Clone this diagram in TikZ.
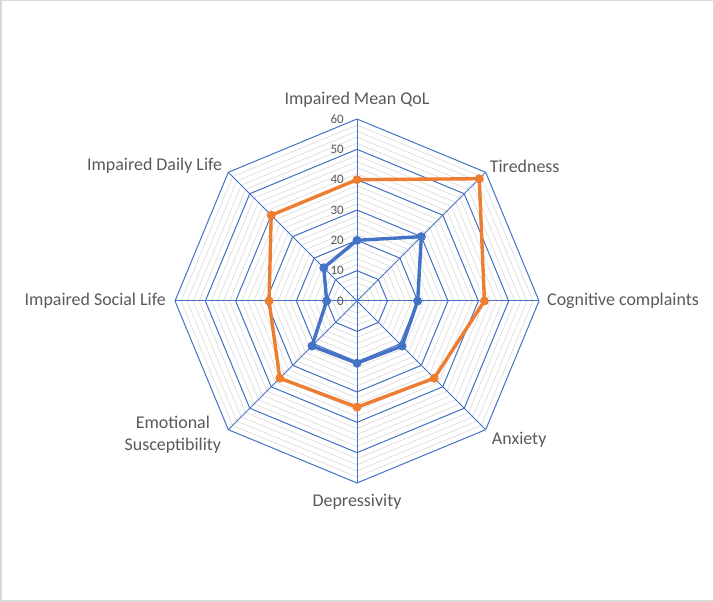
\documentclass[tikz,border=0pt]{standalone}
\usepackage{fontspec}
\setmainfont{Carlito}
\usetikzlibrary{positioning}
\definecolor{gridblue}{HTML}{4472C4}
\definecolor{minorgray}{HTML}{D9D9D9}
\definecolor{serblue}{HTML}{4472C4}
\definecolor{serorange}{HTML}{ED7D31}
\definecolor{labelgray}{HTML}{595959}

\begin{document}
\begin{tikzpicture}[x=1bp,y=1bp,
	axislabel/.style={text=labelgray,font=\fontsize{18}{22}\selectfont,inner sep=0pt},
	ticklabel/.style={text=labelgray,font=\fontsize{13}{15}\selectfont,inner sep=0pt,anchor=east},
	minorring/.style={draw=minorgray,line width=0.6bp},
	majorring/.style={draw=gridblue,line width=1bp},
	series/.style={line width=3.4bp,line join=round},
	dot/.style={circle,inner sep=0pt,minimum size=9bp}]

	\draw[minorgray,line width=1.5bp] (0.75,0.75) rectangle (713.25,601.25);
	\useasboundingbox (0,0) rectangle (714,602);

	\begin{scope}[shift={(357,301)},x=3.0333bp,y=3.0333bp]
		% rings
		\foreach \r in {2,4,...,58}
		\draw[minorring] (0:\r) -- (45:\r) -- (90:\r) -- (135:\r) -- (180:\r) -- (225:\r) -- (270:\r) -- (315:\r) -- cycle;
		\foreach \r in {10,20,...,60}
		\draw[majorring] (0:\r) -- (45:\r) -- (90:\r) -- (135:\r) -- (180:\r) -- (225:\r) -- (270:\r) -- (315:\r) -- cycle;
		\coordinate (c) at (0,0);
		\foreach \i in {0,...,7}{
			\coordinate (v\i) at (\i*45:60);
			\draw[majorring] (c) -- (v\i);
		}
		\foreach \v in {0,10,...,60}
		\node[ticklabel] (t\v) at (-4.3,\v) {\v};

		% axis labels
		\node[axislabel,right=8bp of v0] (cogn) {Cognitive complaints};
		\node[axislabel,above right=-1bp and 4bp of v1] (tired) {Tiredness};
		\node[axislabel,above=11bp of v2] (qol) {Impaired Mean QoL};
		\node[axislabel,above left=-1bp and 6bp of v3] (daily) {Impaired Daily Life};
		\node[axislabel,left=9bp of v4] (social) {Impaired Social Life};
		\node[axislabel,left=7bp of v5,yshift=-5bp,align=center] (emot) {Emotional\\Susceptibility};
		\node[axislabel,below=11bp of v6] (depr) {Depressivity};
		\node[axislabel,below right=2bp and 6bp of v7] (anx) {Anxiety};

		% data
		\foreach \v [count=\i from 0] in {20,30,20,15.5,10,21,20.5,21}
		\coordinate (b\i) at (\i*45:\v);
		\foreach \v [count=\i from 0] in {42,57,40,40,29,36,35,36}
		\coordinate (o\i) at (\i*45:\v);
		\draw[series,serblue] (b0) -- (b1) -- (b2) -- (b3) -- (b4) -- (b5) -- (b6) -- (b7) -- cycle;
		\draw[series,serorange] (o0) -- (o1) -- (o2) -- (o3) -- (o4) -- (o5) -- (o6) -- (o7) -- cycle;
		\foreach \i in {0,...,7}{
			\node[dot,fill=serblue] (bd\i) at (b\i) {};
			\node[dot,fill=serorange] (od\i) at (o\i) {};
		}
	\end{scope}
\end{tikzpicture}
\end{document}
